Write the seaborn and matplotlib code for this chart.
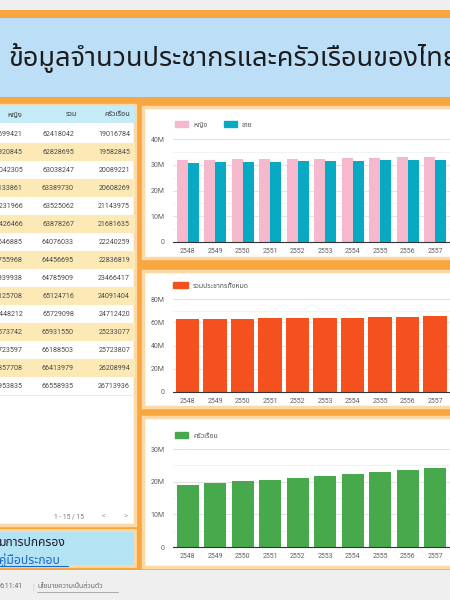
import numpy as np
import pandas as pd
import seaborn as sns
import matplotlib.pyplot as plt
from matplotlib import font_manager
from matplotlib.ft2font import FT2Font
from matplotlib.patches import Rectangle, Patch
from matplotlib.ticker import FuncFormatter, MultipleLocator

# chart data (Buddhist-era years shown on the charts)
years = ["2548", "2549", "2550", "2551", "2552", "2553", "2554", "2555", "2556", "2557"]
female = [31699421, 31920845, 32042305, 32133861, 32231966, 32426466, 32546885, 32755968, 32939938, 33125708]
male = [30718621, 30907850, 30995942, 31255869, 31293096, 31451801, 31529148, 31700727, 31845971, 31999008]
total = [62418042, 62828695, 63038247, 63389730, 63525062, 63878267, 64076033, 64456695, 64785909, 65124716]
households = [19016784, 19582845, 20089221, 20608269, 21143975, 21681635, 22240259, 22836819, 23466417, 24091404]

# table rows (15 rows, left columns cut off in the screenshot)
tab_female = female + [33448212, 33573742, 33723597, 33857708, 33953835]
tab_total = total + [65729098, 65931550, 66188503, 66413979, 66558935]
tab_house = households + [24712420, 25233077, 25723807, 26208994, 26713936]
tab_headers = ["หญิง", "รวม", "ครัวเรือน"]

title = "ข้อมูลจำนวนประชากรและครัวเรือนของไทย"
sex_labels = ["หญิง", "ชาย"]
total_label = "รวมประชากรทั้งหมด"
house_label = "ครัวเรือน"


def find_thai_font():
    names = sorted({f.name for f in font_manager.fontManager.ttflist})
    named = [n for n in names if "Thai" in n and "Looped" not in n]
    if named:
        named.sort(key=lambda n: (0 if "Sans" in n else 1, len(n)))
        return named[0]
    for f in font_manager.fontManager.ttflist:
        if f.fname.lower().endswith((".ttc", ".otc")):
            continue
        try:
            if 0x0E01 in FT2Font(f.fname).get_charmap():
                return f.name
        except Exception:
            pass
    return "DejaVu Sans"


sns.set_style("white")
THAI = find_thai_font()
plt.rcParams["font.family"] = ["Roboto", THAI, "DejaVu Sans"]
TH = [THAI, "Roboto", "DejaVu Sans"]

W, H = 450, 600
fig = plt.figure(figsize=(4.5, 6), dpi=100)

ORANGE = "#f8a640"
PINK = "#f6b8cd"
TEAL = "#08a9c2"
RED = "#f4511e"
GREEN = "#47a94c"
GRID = "#dedede"
TICK = "#616161"


def add_px_axes(x0, y0, x1, y1):
    return fig.add_axes([x0 / W, 1 - y1 / H, (x1 - x0) / W, (y1 - y0) / H])


# background / layout
bg = fig.add_axes([0, 0, 1, 1])
bg.set_xlim(0, W)
bg.set_ylim(H, 0)
bg.axis("off")

def box(x0, y0, x1, y1, fc, ec="none", lw=0, z=1):
    bg.add_patch(Rectangle((x0, y0), x1 - x0, y1 - y0, facecolor=fc, edgecolor=ec, linewidth=lw, zorder=z))

box(0, 0, W, H, "#efefef", z=0)
box(0, 10, W, 570, ORANGE, z=0.5)
box(0, 18, W, 97, "#bcdff7")
box(-10, 105, 135, 525, "white", ec="#fcd8a6", lw=2.5)
box(-10, 530, 135, 566, "#b4e3f3", ec="#fcd8a6", lw=2)
for y0, y1 in [(107, 258), (271, 407), (417, 567)]:
    box(143, y0, 460, y1, "white", ec="#fcd8a6", lw=2.5)

bg.text(8, 58, title, family=TH, fontsize=19.5, color="#1c1c1c", va="center", ha="left")

# table
box(-10, 106, 135, 123, "#c4ebf6", z=2)
header_x = [22, 77, 130]
for hx, label in zip(header_x, tab_headers):
    bg.text(hx, 115, label, family=TH, fontsize=5.2, fontweight="bold", color="#333333",
            ha="right", va="center", zorder=3)
for i, (f, t, h) in enumerate(zip(tab_female, tab_total, tab_house)):
    yc = 134 + 18 * i
    if i % 2 == 1:
        box(-10, yc - 9, 135, yc + 9, "#fce9b6", z=2)
    for cx, val in zip([23, 74, 130], [f, t, h]):
        bg.text(cx, yc, str(val), fontsize=5.1, color="#4a4a4a", ha="right", va="center", zorder=3)
bg.plot([-10, 135], [395, 395], color="#e6e6e6", lw=0.6, zorder=3)
bg.text(69, 517, "1 - 15 / 15", fontsize=4.8, color="#757575", ha="center", va="center", zorder=3)
bg.text(104, 517, "<", fontsize=5.5, color="#9e9e9e", ha="center", va="center", zorder=3)
bg.text(125, 517, ">", fontsize=5.5, color="#9e9e9e", ha="center", va="center", zorder=3)

bg.text(-1, 543, "มการปกครอง", family=TH, fontsize=8.7, fontweight="bold", color="#1b1b2f",
        ha="left", va="center", zorder=3)
bg.text(-1, 560, "คู่มือประกอบ", family=TH, fontsize=8.7, fontweight="bold", color="#1a66c9",
        ha="left", va="center", zorder=3)
bg.plot([0, 68], [566, 566], color="#1a66c9", lw=0.8, zorder=3)

# footer
bg.text(-1, 587, "6:11:41", fontsize=5, color="#6d6d6d", ha="left", va="center")
bg.text(33, 587, "|", fontsize=5, color="#bdbdbd", ha="center", va="center")
bg.text(37, 587, "นโยบายความเป็นส่วนตัว", family=TH, fontsize=5, color="#6d6d6d", ha="left", va="center")
bg.plot([37, 118], [592, 592], color="#8d8d8d", lw=0.5)


def fmt_m(v, pos):
    return "0" if v == 0 else f"{int(round(v / 1e6))}M"


def style_axis(ax, top, major, minor):
    ax.set_ylim(0, top)
    ax.set_xlim(-0.53, -0.53 + 287 / 27.5)
    ax.yaxis.set_major_locator(MultipleLocator(major))
    ax.yaxis.set_minor_locator(MultipleLocator(minor))
    ax.yaxis.set_major_formatter(FuncFormatter(fmt_m))
    ax.grid(axis="y", which="major", color=GRID, lw=0.6)
    ax.grid(axis="y", which="minor", color="#efefef", lw=0.5)
    ax.set_axisbelow(True)
    for s in ["left", "right", "top"]:
        ax.spines[s].set_visible(False)
    ax.spines["bottom"].set_color("#333333")
    ax.spines["bottom"].set_linewidth(0.8)
    ax.tick_params(axis="both", which="both", length=0, labelsize=5, colors=TICK)
    ax.tick_params(axis="y", pad=6)
    ax.tick_params(axis="x", pad=4.5)
    ax.set_xlabel("")
    ax.set_ylabel("")
    ax.set_facecolor("white")


# chart 1: female / male
df_sex = pd.DataFrame({
    "year": years * 2,
    "value": female + male,
    "sex": [sex_labels[0]] * len(years) + [sex_labels[1]] * len(years),
})
ax1 = add_px_axes(173, 139, 460, 242)
sns.barplot(data=df_sex, x="year", y="value", hue="sex", hue_order=sex_labels,
            palette=[PINK, TEAL], saturation=1, width=0.8, linewidth=0, legend=False, ax=ax1)
style_axis(ax1, 40e6, 10e6, 5e6)
ax1.legend([Patch(color=PINK), Patch(color=TEAL)], sex_labels, loc="center left",
           bbox_to_anchor=(175 / W, 1 - 125 / H), bbox_transform=fig.transFigure, ncol=2,
           frameon=False, prop={"family": TH, "size": 5}, handlelength=1.9, handleheight=0.8,
           handletextpad=0.7, columnspacing=2.4, borderaxespad=0, borderpad=0,
           labelcolor="#555555")

# chart 2: total population
ax2 = add_px_axes(173, 299, 460, 392)
sns.barplot(x=years, y=total, color=RED, saturation=1, width=0.85, linewidth=0, ax=ax2)
style_axis(ax2, 80e6, 20e6, 10e6)
ax2.legend([Patch(color=RED)], [total_label], loc="center left",
           bbox_to_anchor=(173 / W, 1 - 286 / H), bbox_transform=fig.transFigure,
           frameon=False, prop={"family": TH, "size": 5}, handlelength=2.2, handleheight=0.9,
           handletextpad=0.6, borderaxespad=0, borderpad=0, labelcolor="#555555")

# chart 3: households
ax3 = add_px_axes(173, 449, 460, 547)
sns.barplot(x=years, y=households, color=GREEN, saturation=1, width=0.8, linewidth=0, ax=ax3)
style_axis(ax3, 30e6, 10e6, 5e6)
ax3.legend([Patch(color=GREEN)], [house_label], loc="center left",
           bbox_to_anchor=(175 / W, 1 - 436 / H), bbox_transform=fig.transFigure,
           frameon=False, prop={"family": TH, "size": 5}, handlelength=1.9, handleheight=0.9,
           handletextpad=0.7, borderaxespad=0, borderpad=0, labelcolor="#555555")

fig.savefig("out.png", dpi=100)
